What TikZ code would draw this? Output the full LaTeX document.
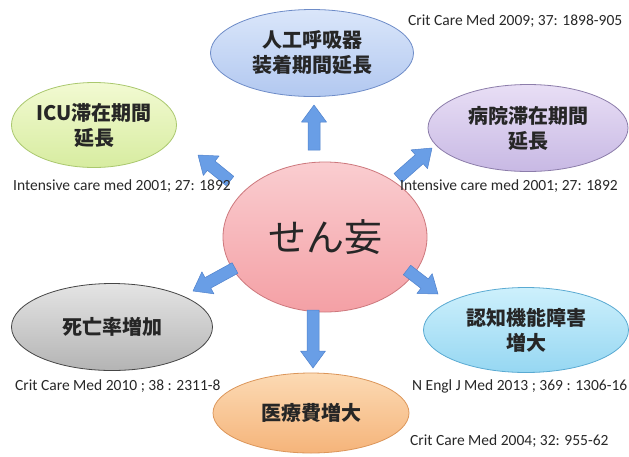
\documentclass[tikz,border=0pt]{standalone}
\usepackage{fontspec}
\setmainfont{Carlito}
\newfontfamily\jp{Noto Sans CJK JP}
\usetikzlibrary{calc,shapes.geometric}
\definecolor{citec}{RGB}{40,40,40}
\definecolor{arrf}{RGB}{105,158,230}
\definecolor{arrd}{RGB}{80,130,205}
\tikzset{
  ell/.style={ellipse, draw, line width=0.8pt, inner sep=0pt, align=center,
    font=\jp\bfseries\fontsize{20}{25}\selectfont, text=black!85},
  cite/.style={anchor=west, font=\fontsize{15.5}{18}\selectfont, text=citec, inner sep=0pt},
}
\newcommand{\blockarr}[2]{%
  \fill[arrf, draw=arrd, line width=0.5pt, line join=round]
    ($(#1)!6pt!90:(#2)$) -- ($($(#2)!17pt!(#1)$)!6pt!-90:(#1)$) --
    ($($(#2)!17pt!(#1)$)!12.5pt!-90:(#1)$) -- (#2) --
    ($($(#2)!17pt!(#1)$)!12.5pt!90:(#1)$) -- ($($(#2)!17pt!(#1)$)!6pt!90:(#1)$) --
    ($(#1)!6pt!-90:(#2)$) -- cycle;}
\begin{document}
\begin{tikzpicture}[x=1pt,y=-1pt]
\useasboundingbox (0,0) rectangle (629,456);
\clip (0,0) rectangle (629,456);
\fill[white] (0,0) rectangle (629,456);
% ellipses
\node[ell, minimum width=203pt, minimum height=87pt, draw={rgb,255:red,110;green,140;blue,200},
  top color={rgb,255:red,218;green,230;blue,250}, bottom color={rgb,255:red,178;green,200;blue,240}]
  (vent) at (312,53) {人工呼吸器\\装着期間延長};
\node[ell, minimum width=165pt, minimum height=85pt, draw={rgb,255:red,170;green,200;blue,110},
  top color={rgb,255:red,242;green,250;blue,210}, bottom color={rgb,255:red,215;green,236;blue,160}]
  (icu) at (94,125) {ICU滞在期間\\延長};
\node[ell, minimum width=200pt, minimum height=87pt, draw={rgb,255:red,140;green,125;blue,170},
  top color={rgb,255:red,232;green,222;blue,245}, bottom color={rgb,255:red,200;green,185;blue,228}]
  (hosp) at (528,128) {病院滞在期間\\延長};
\node[ell, minimum width=204pt, minimum height=150pt, draw={rgb,255:red,205;green,120;blue,125},
  top color={rgb,255:red,250;green,205;blue,208}, bottom color={rgb,255:red,244;green,160;blue,165},
  font=\jp\fontsize{38}{44}\selectfont]
  (c) at (325,237) {せん妄};
\node[ell, minimum width=201pt, minimum height=87pt, draw={rgb,255:red,70;green,70;blue,70},
  top color={rgb,255:red,228;green,228;blue,228}, bottom color={rgb,255:red,180;green,180;blue,180}]
  (death) at (112,327) {死亡率増加};
\node[ell, minimum width=205pt, minimum height=85pt, draw={rgb,255:red,90;green,170;blue,210},
  top color={rgb,255:red,205;green,240;blue,252}, bottom color={rgb,255:red,150;green,215;blue,242}]
  (cog) at (526,330) {認知機能障害\\増大};
\node[ell, minimum width=196pt, minimum height=80pt, draw={rgb,255:red,220;green,150;blue,90},
  top color={rgb,255:red,252;green,218;blue,180}, bottom color={rgb,255:red,245;green,180;blue,122}]
  (cost) at (311,413) {医療費増大};
% arrow end points
\coordinate (aUs) at (314,150); \coordinate (aUe) at (314,105);
\coordinate (aULs) at (230,181); \coordinate (aULe) at (198,155);
\coordinate (aURs) at (398,178); \coordinate (aURe) at (432,148);
\coordinate (aLLs) at (235,268); \coordinate (aLLe) at (193,291);
\coordinate (aLRs) at (407,270); \coordinate (aLRe) at (438,294);
\coordinate (aDs) at (313,310); \coordinate (aDe) at (313,368);
\blockarr{aUs}{aUe}
\blockarr{aULs}{aULe}
\blockarr{aURs}{aURe}
\blockarr{aLLs}{aLLe}
\blockarr{aLRs}{aLRe}
\blockarr{aDs}{aDe}
% citations
\node[cite] (r1) at (408,21) {Crit Care Med 2009; 37: 1898-905};
\node[cite] (r2) at (13,186) {Intensive care med 2001; 27: 1892};
\node[cite] (r3) at (400,186) {Intensive care med 2001; 27: 1892};
\node[cite] (r4) at (15,386) {Crit Care Med 2010 ; 38 : 2311-8};
\node[cite] (r5) at (412,386) {N Engl J Med 2013 ; 369 : 1306-16};
\node[cite] (r6) at (410,441) {Crit Care Med 2004; 32: 955-62};
\end{tikzpicture}
\end{document}
